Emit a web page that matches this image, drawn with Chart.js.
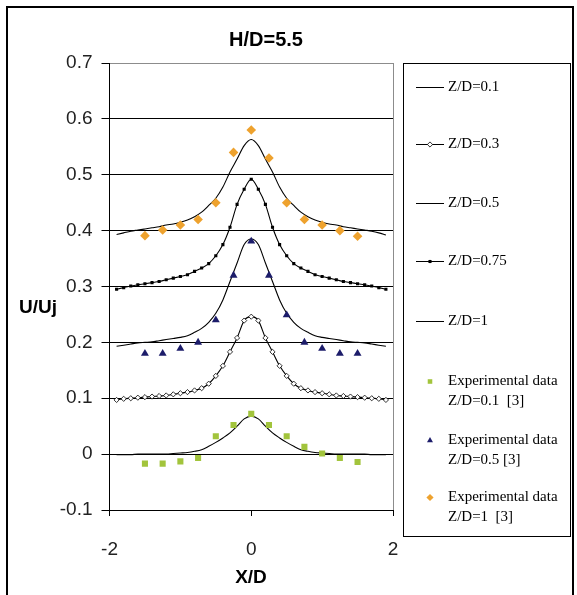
<!DOCTYPE html>
<html>
<head>
<meta charset="utf-8">
<script src="https://cdn.jsdelivr.net/npm/chart.js@4.4.1/dist/chart.umd.min.js"></script>
<style>
  html, body { margin: 0; padding: 0; background: #fff; }
  #wrap { width: 577px; height: 595px; }
</style>
</head>
<body>
<div id="wrap"><canvas id="chart" width="577" height="595"></canvas></div>
<script>
// X/D positions of the computed curves
const xd = [-1.9, -1.8, -1.7, -1.6, -1.5, -1.4, -1.3, -1.2, -1.1, -1.0,
  -0.9, -0.8, -0.7, -0.6, -0.5, -0.4, -0.3, -0.2, -0.1, 0,
  0.1, 0.2, 0.3, 0.4, 0.5, 0.6, 0.7, 0.8, 0.9, 1.0,
  1.1, 1.2, 1.3, 1.4, 1.5, 1.6, 1.7, 1.8, 1.9];

// U/Uj for each Z/D curve
const zd01 = [-0.001, -0.001, -0.001, 0, 0, 0, 0, 0, 0.001, 0.002,
  0.003, 0.005, 0.008, 0.014, 0.021, 0.029, 0.038, 0.05, 0.063, 0.068,
  0.063, 0.05, 0.038, 0.029, 0.021, 0.014, 0.008, 0.005, 0.003, 0.002,
  0.001, 0, 0, 0, 0, 0, -0.001, -0.001, -0.001];
const zd03 = [0.097, 0.099, 0.1, 0.101, 0.102, 0.103, 0.104, 0.105, 0.107, 0.109,
  0.111, 0.114, 0.118, 0.126, 0.14, 0.158, 0.183, 0.208, 0.239, 0.246,
  0.239, 0.208, 0.183, 0.158, 0.14, 0.126, 0.118, 0.114, 0.111, 0.109,
  0.107, 0.105, 0.104, 0.103, 0.102, 0.101, 0.1, 0.099, 0.097];
const zd05 = [0.193, 0.195, 0.197, 0.199, 0.2, 0.201, 0.203, 0.205, 0.207, 0.209,
  0.212, 0.218, 0.225, 0.236, 0.252, 0.276, 0.309, 0.342, 0.375, 0.385,
  0.375, 0.342, 0.309, 0.276, 0.252, 0.236, 0.225, 0.218, 0.212, 0.209,
  0.207, 0.205, 0.203, 0.201, 0.2, 0.199, 0.197, 0.195, 0.193];
const zd075 = [0.295, 0.298, 0.301, 0.303, 0.305, 0.307, 0.309, 0.312, 0.315, 0.318,
  0.321, 0.327, 0.333, 0.341, 0.355, 0.375, 0.406, 0.447, 0.474, 0.492,
  0.474, 0.447, 0.406, 0.375, 0.355, 0.341, 0.333, 0.327, 0.321, 0.318,
  0.315, 0.312, 0.309, 0.307, 0.305, 0.303, 0.301, 0.298, 0.295];
const zd1 = [0.393, 0.396, 0.399, 0.401, 0.403, 0.405, 0.407, 0.41, 0.412, 0.415,
  0.419, 0.425, 0.433, 0.445, 0.458, 0.478, 0.505, 0.528, 0.552, 0.563,
  0.552, 0.528, 0.505, 0.478, 0.458, 0.445, 0.433, 0.425, 0.419, 0.415,
  0.412, 0.41, 0.407, 0.405, 0.403, 0.401, 0.399, 0.396, 0.392];

// Experimental data [3]
const expX = [-1.5, -1.25, -1, -0.75, -0.5, -0.25, 0, 0.25, 0.5, 0.75, 1, 1.25, 1.5];
const exp01 = [-0.017, -0.017, -0.013, -0.007, 0.032, 0.052, 0.072, 0.052, 0.032, 0.013, 0.001, -0.007, -0.014];
const exp05 = [0.18, 0.18, 0.189, 0.2, 0.24, 0.32, 0.381, 0.32, 0.249, 0.2, 0.189, 0.18, 0.18];
const exp1 = [0.391, 0.401, 0.41, 0.42, 0.45, 0.54, 0.58, 0.53, 0.45, 0.42, 0.41, 0.40, 0.39];

const xTicks = [-2, 0, 2];
const yTicks = [-0.1, 0, 0.1, 0.2, 0.3, 0.4, 0.5, 0.6, 0.7];

const pts = (xs, ys) => xs.map((x, i) => ({ x: x, y: ys[i] }));

const curve = (label, ys, extra) => Object.assign({
  label: label,
  data: pts(xd, ys),
  showLine: true,
  borderColor: "#000",
  borderWidth: 1.1,
  pointRadius: 0,
  cubicInterpolationMode: "monotone",
  order: 1,
}, extra || {});

const marks = (label, ys, style, color, radius) => ({
  label: label,
  data: pts(expX, ys),
  showLine: false,
  pointStyle: style,
  pointRadius: radius,
  pointBackgroundColor: color,
  pointBorderColor: color,
  pointBorderWidth: 0,
  order: 0,
});

const datasets = [
  curve("Z/D=0.1", zd01),
  curve("Z/D=0.3", zd03, { pointRadius: 2.6, pointStyle: "rectRot", pointBackgroundColor: "#fff", pointBorderColor: "#000", pointBorderWidth: 0.8 }),
  curve("Z/D=0.5", zd05),
  curve("Z/D=0.75", zd075, { pointRadius: 2.2, pointStyle: "rect", pointBackgroundColor: "#000", pointBorderColor: "#000", pointBorderWidth: 0 }),
  curve("Z/D=1", zd1),
  marks("Experimental data Z/D=0.1 [3]", exp01, "rect", "#a2c43c", 4.3),
  marks("Experimental data Z/D=0.5 [3]", exp05, "triangle", "#1c1c6a", 4.6),
  marks("Experimental data Z/D=1 [3]", exp1, "rectRot", "#eea22e", 4.8),
];

// Legend rows: label lines, y of each line
const legendRows = [
  { ds: 0, lines: ["Z/D=0.1"], y: 87 },
  { ds: 1, lines: ["Z/D=0.3"], y: 144 },
  { ds: 2, lines: ["Z/D=0.5"], y: 203 },
  { ds: 3, lines: ["Z/D=0.75"], y: 261 },
  { ds: 4, lines: ["Z/D=1"], y: 321 },
  { ds: 5, lines: ["Experimental data", "Z/D=0.1  [3]"], y: 381 },
  { ds: 6, lines: ["Experimental data", "Z/D=0.5 [3]"], y: 440 },
  { ds: 7, lines: ["Experimental data", "Z/D=1  [3]"], y: 497 },
];

const decorations = {
  id: "decorations",
  afterDraw(chart) {
    const ctx = chart.ctx;
    ctx.save();

    // outer frame
    ctx.strokeStyle = "#000";
    ctx.lineWidth = 2;
    ctx.strokeRect(7, 7, 566, 620);

    // title and axis titles
    ctx.fillStyle = "#000";
    ctx.textAlign = "center";
    ctx.textBaseline = "middle";
    ctx.font = "bold 20px 'Liberation Sans', Arial, sans-serif";
    ctx.fillText("H/D=5.5", 266, 40);
    ctx.font = "bold 19px 'Liberation Sans', Arial, sans-serif";
    ctx.fillText("X/D", 251, 578);
    ctx.textAlign = "left";
    ctx.fillText("U/Uj", 19, 308);

    // legend box
    ctx.lineWidth = 1;
    ctx.strokeRect(403.5, 63.5, 167, 473);
    ctx.font = "15px 'Liberation Serif', 'Times New Roman', serif";
    legendRows.forEach((row) => {
      const ds = chart.data.datasets[row.ds];
      const cx = 430;
      if (ds.showLine) {
        ctx.strokeStyle = "#000";
        ctx.lineWidth = 1;
        ctx.beginPath();
        ctx.moveTo(416, row.y + 0.5);
        ctx.lineTo(444, row.y + 0.5);
        ctx.stroke();
      }
      if (ds.pointRadius > 0) {
        ctx.fillStyle = ds.pointBackgroundColor;
        ctx.strokeStyle = ds.pointBorderColor;
        ctx.lineWidth = ds.pointBorderWidth;
        Chart.helpers.drawPoint(ctx, {
          pointStyle: ds.pointStyle,
          radius: ds.showLine ? ds.pointRadius : ds.pointRadius * 0.75,
          rotation: 0,
          borderWidth: ds.pointBorderWidth,
        }, cx, row.y + 0.5);
      }
      ctx.fillStyle = "#000";
      ctx.textAlign = "left";
      row.lines.forEach((t, i) => ctx.fillText(t, 448, row.y + i * 20));
    });
    ctx.restore();
  },
};

new Chart(document.getElementById("chart"), {
  type: "scatter",
  data: { datasets: datasets },
  plugins: [decorations],
  options: {
    responsive: false,
    devicePixelRatio: 1,
    animation: false,
    layout: { padding: { top: 63, right: 184, left: 0, bottom: 0 } },
    plugins: {
      legend: { display: false },
      title: { display: false },
      tooltip: { enabled: false },
    },
    scales: {
      x: {
        type: "linear",
        min: -2,
        max: 2,
        afterBuildTicks: (s) => { s.ticks = xTicks.map((v) => ({ value: v })); },
        afterFit: (s) => { s.height = 85; },
        border: { color: "#000", width: 1 },
        grid: {
          color: (c) => (c.tick && c.tick.value === 2 ? "#8c8c8c" : "rgba(0,0,0,0)"),
          tickColor: "#000",
          tickLength: 6,
        },
        ticks: {
          color: "#222",
          padding: 22,
          font: { family: "'Liberation Sans', Arial, sans-serif", size: 19 },
          callback: (v) => String(v),
        },
      },
      y: {
        type: "linear",
        min: -0.1,
        max: 0.7,
        afterBuildTicks: (s) => { s.ticks = yTicks.map((v) => ({ value: v })); },
        afterFit: (s) => { s.width = 109.5; },
        border: { color: "#000", width: 1 },
        grid: {
          color: (c) => (c.tick && c.tick.value > 0.65 ? "#8c8c8c" : "#000"),
          tickColor: "#000",
          tickLength: 8,
        },
        ticks: {
          color: "#222",
          padding: 9,
          font: { family: "'Liberation Sans', Arial, sans-serif", size: 19 },
          callback: (v) => (Math.abs(v) < 1e-9 ? "0" : v.toFixed(1)),
        },
      },
    },
  },
});
</script>
</body>
</html>
